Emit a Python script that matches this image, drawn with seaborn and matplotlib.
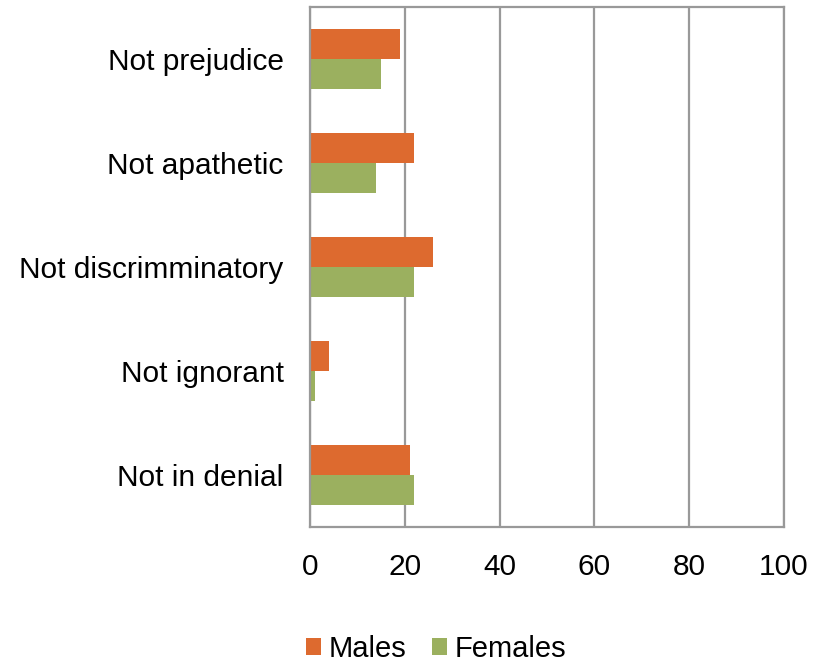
import matplotlib
matplotlib.use("Agg")
import matplotlib.pyplot as plt
import seaborn as sns
import pandas as pd

categories = ["Not prejudice", "Not apathetic", "Not discrimminatory", "Not ignorant", "Not in denial"]
males = [19, 22, 26, 4, 21]
females = [15, 14, 22, 1, 22]
x_ticks = [0, 20, 40, 60, 80, 100]

df = pd.DataFrame({
    "category": categories * 2,
    "value": males + females,
    "group": ["Males"] * len(categories) + ["Females"] * len(categories),
})

sns.set_style("white")
plt.rcParams["font.family"] = ["Liberation Sans", "DejaVu Sans"]
plt.rcParams["text.color"] = "black"
plt.rcParams["xtick.color"] = "black"
plt.rcParams["ytick.color"] = "black"

fig = plt.figure(figsize=(8.19, 6.64), dpi=100)
ax = fig.add_axes([310 / 819, 1 - 527 / 664, 474 / 819, 520 / 664])

palette = {"Males": "#DD6A2F", "Females": "#9BB05F"}
sns.barplot(data=df, x="value", y="category", hue="group", order=categories,
            hue_order=["Males", "Females"], palette=palette, orient="h",
            width=0.57, saturation=1, linewidth=0, ax=ax, legend=True)

ax.set_xlim(0, 100)
ax.set_xticks(x_ticks)
ax.set_xticklabels([str(t) for t in x_ticks])
ax.set_xlabel("")
ax.set_ylabel("")
ax.xaxis.grid(True, color="#999999", linewidth=1.6)
ax.yaxis.grid(False)
ax.set_axisbelow(True)
for s in ax.spines.values():
    s.set_visible(True)
    s.set_color("#999999")
    s.set_linewidth(1.6)
ax.tick_params(axis="both", length=0, labelsize=21.5, colors="black")
ax.tick_params(axis="x", pad=19)
ax.tick_params(axis="y", pad=19)

handles, labels = ax.get_legend_handles_labels()
ax.legend_.remove()
fig.legend(handles, labels, loc="center", bbox_to_anchor=(436 / 819, 1 - 649 / 664),
           ncol=2, frameon=False, fontsize=21, handlelength=0.52, handleheight=0.52,
           handletextpad=0.27, columnspacing=0.86, borderpad=0)

fig.savefig("out.png", dpi=100)
